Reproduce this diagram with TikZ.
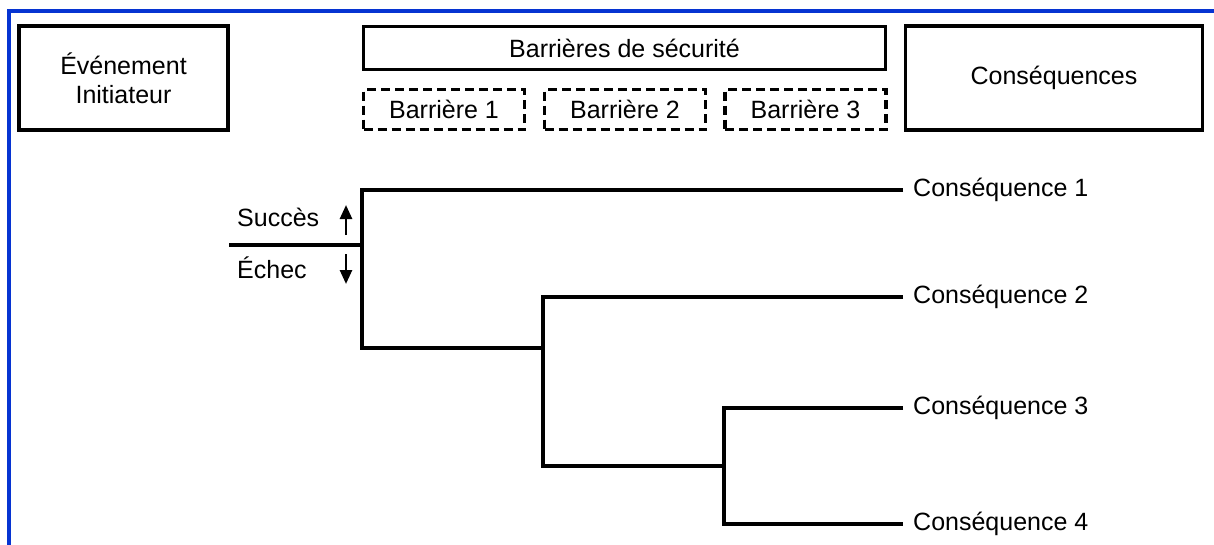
\documentclass[tikz,border=0pt]{standalone}
\usepackage{fontspec}
\setmainfont{Liberation Sans}
\usetikzlibrary{arrows.meta}
\definecolor{frameblue}{RGB}{6,52,210}
\begin{document}
\begin{tikzpicture}[x=1pt,y=-1pt,
  font=\fontsize{25}{29}\selectfont,
  solidbox/.style={draw, line width=3.2pt, inner sep=0pt, align=center},
  dashbox/.style={draw, line width=3.2pt, inner sep=0pt, dash pattern=on 9pt off 5pt,
    minimum width=161pt, minimum height=40pt},
  tree/.style={line width=3.2pt},
  cons/.style={anchor=west, inner xsep=10pt, inner ysep=0pt},
  lbl/.style={anchor=west, inner sep=0pt},
  dirarrow/.style={line width=2.6pt, -{Triangle[length=14pt,width=12pt]}},
  frameline/.style={draw=frameblue, line width=4.5pt}]

\useasboundingbox (0,0) rectangle (1214,544);

% outer blue frame
\draw[frameline] (9,548) -- (9,11) -- (1218,11);

% header row
\node[solidbox, minimum width=209pt, minimum height=104pt] (ie) at (123.5,78)
  {Événement\\Initiateur};
\node[solidbox, minimum width=522pt, minimum height=43pt] (bs) at (624.5,48)
  {Barrières de sécurité};
\node[dashbox] (b1) at (444,109.5) {Barrière 1};
\node[dashbox] (b2) at (625,109.5) {Barrière 2};
\node[dashbox] (b3) at (805.5,109.5) {Barrière 3};
\node[solidbox, minimum width=297pt, minimum height=104pt] (cq) at (1054,78)
  {Conséquences};

% event tree
\coordinate (s0) at (229,245);
\coordinate (a1) at (362,245);
\coordinate (k1) at (362,348);
\coordinate (a2) at (543,348);
\coordinate (k2) at (543,466);
\coordinate (a3) at (724,466);
\coordinate (k3) at (724,524);

\node[cons] (c1) at (903,190) {Conséquence 1};
\node[cons] (c2) at (903,297) {Conséquence 2};
\node[cons] (c3) at (903,408) {Conséquence 3};
\node[cons] (c4) at (903,524) {Conséquence 4};

\draw[tree] (s0) -- (a1);
\draw[tree] (c1.west) -| (k1) -- (a2);
\draw[tree] (c2.west) -| (k2) -- (a3);
\draw[tree] (c3.west) -| (k3) -- (c4.west);

% legend
\node[lbl] (ok) at (237,217) {Succès};
\node[lbl] (ko) at (237,268) {Échec};
\coordinate (u0) at (346,235);
\coordinate (u1) at (346,205);
\coordinate (d0) at (346,254);
\coordinate (d1) at (346,284);
\draw[dirarrow] (u0) -- (u1);
\draw[dirarrow] (d0) -- (d1);
\end{tikzpicture}
\end{document}
